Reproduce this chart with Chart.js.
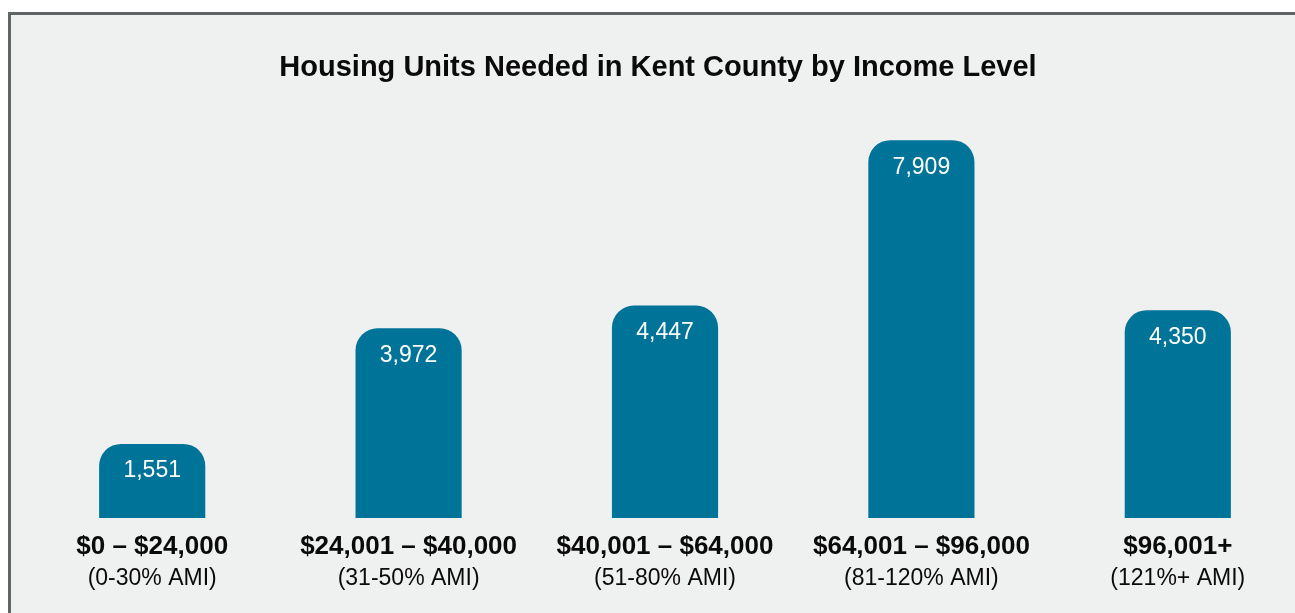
<!DOCTYPE html>
<html>
<head>
<meta charset="utf-8">
<script src="https://cdn.jsdelivr.net/npm/chart.js@4"></script>
<style>
  html, body { margin: 0; padding: 0; background: #fff; overflow: hidden; }
  #frame {
    position: absolute; left: 8px; top: 12px;
    width: 1300px; height: 620px;
    border-left: 3px solid #5f6566; border-top: 3px solid #5f6566;
    background: #eff1f0;
  }
  #wrap { position: absolute; left: 0; top: 0; width: 1295px; height: 598px; }
</style>
</head>
<body>
<div id="frame"><div id="wrap"><canvas id="chart"></canvas></div></div>
<script>
// categories + values
const ranges = ['$0 – $24,000', '$24,001 – $40,000', '$40,001 – $64,000', '$64,001 – $96,000', '$96,001+'];
const amiLabels = ['(0-30% AMI)', '(31-50% AMI)', '(51-80% AMI)', '(81-120% AMI)', '(121%+ AMI)'];
const unitsNeeded = [1551, 3972, 4447, 7909, 4350];
const chartTitle = 'Housing Units Needed in Kent County by Income Level';

const FONT = 'Arial, "Liberation Sans", Helvetica, sans-serif';

// title (drawn by hand so it centres on the whole frame, not the plot area),
// white numbers inside the top of each bar, two-line labels under the bars
const labelsPlugin = {
  id: 'labels',
  afterDatasetsDraw(chart) {
    const ctx = chart.ctx;
    const meta = chart.getDatasetMeta(0);
    const xScale = chart.scales.x;
    const base = chart.chartArea.bottom;
    ctx.save();
    ctx.textAlign = 'center';
    ctx.textBaseline = 'middle';

    ctx.fillStyle = '#0a0a0a';
    ctx.font = 'bold 29px ' + FONT;
    ctx.fillText(chartTitle, 647, 53);

    meta.data.forEach((bar, i) => {
      ctx.fillStyle = '#ffffff';
      ctx.font = '23px ' + FONT;
      ctx.fillText(unitsNeeded[i].toLocaleString('en-US'), bar.x, bar.y + 27);

      const x = xScale.getPixelForValue(i);
      ctx.fillStyle = '#0a0a0a';
      ctx.font = 'bold 26px ' + FONT;
      ctx.fillText(ranges[i], x, base + 29);
      ctx.font = '23px ' + FONT;
      ctx.fillText(amiLabels[i], x, base + 61);
    });
    ctx.restore();
  }
};

new Chart(document.getElementById('chart'), {
  type: 'bar',
  data: {
    labels: ranges,
    datasets: [{
      data: unitsNeeded,
      backgroundColor: '#007399',
      borderRadius: 22,
      borderSkipped: 'bottom',
      barPercentage: 0.414,
      categoryPercentage: 1
    }]
  },
  options: {
    responsive: true,
    maintainAspectRatio: false,
    animation: false,
    layout: { padding: { left: 13, right: -2, top: 85, bottom: 95 } },
    scales: {
      x: { display: false },
      y: { display: false, min: 0, max: 8750 }
    },
    plugins: {
      legend: { display: false },
      tooltip: { enabled: false },
      title: { display: false }
    }
  },
  plugins: [labelsPlugin]
});
</script>
</body>
</html>
